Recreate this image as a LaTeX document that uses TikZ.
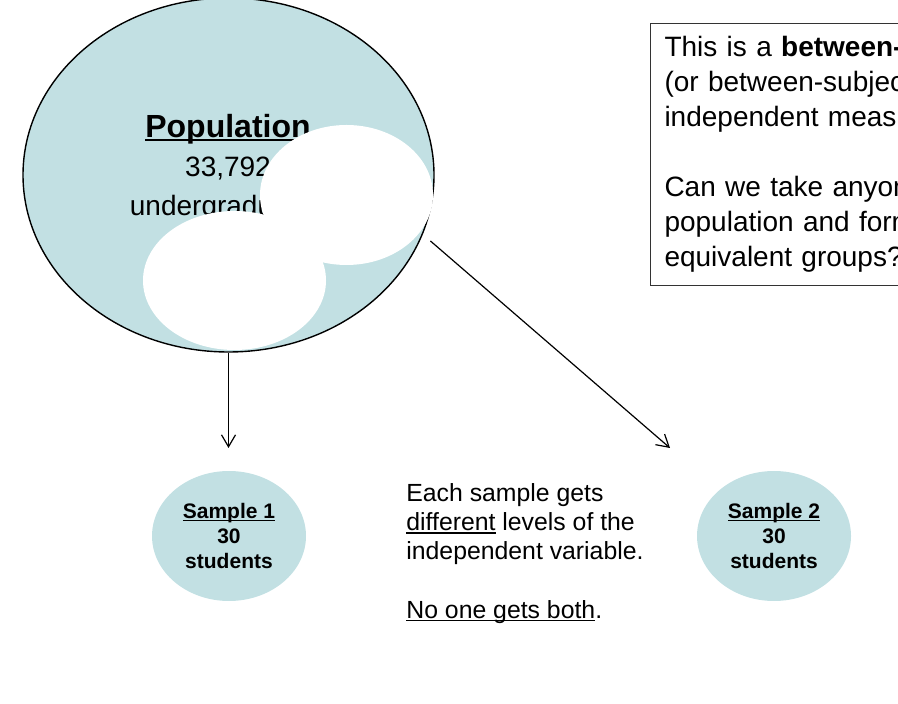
\documentclass[tikz,border=0pt]{standalone}
\usepackage{fontspec}
\setmainfont{Liberation Sans}
\usetikzlibrary{shapes.geometric, arrows.meta, positioning}
\definecolor{popfill}{HTML}{C2E0E3}
\newcommand{\undl}[1]{\setbox0\hbox{#1}\rlap{\rule[-0.12em]{\wd0}{0.065em}}\box0\relax}

\begin{document}
\begin{tikzpicture}[x=0.5pt, y=-0.5pt,
    popn/.style={ellipse, draw=black, line width=0.7pt, fill=popfill, minimum width=205.5pt, minimum height=177pt, inner sep=0pt},
    poplabel/.style={align=center, inner sep=0pt, font=\fontsize{14}{19.5}\selectfont},
    mask/.style={ellipse, fill=white, inner sep=0pt},
    sample/.style={ellipse, fill=popfill, minimum width=77pt, minimum height=65pt, inner sep=0pt, align=center, font=\fontsize{10.5}{12.3}\selectfont\bfseries},
    infobox/.style={draw=black!80, line width=0.5pt, align=left, text width=280pt, inner xsep=7pt, inner ysep=6.5pt, font=\fontsize{14}{17.5}\selectfont},
    note/.style={align=left, inner sep=0pt, font=\fontsize{12.4}{14.6}\selectfont},
    conn/.style={-{Straight Barb[length=6pt,width=7pt]}, line width=0.6pt},
]
\path[use as bounding box, clip] (0,0) rectangle (898,704);

\node[popn] (pop) at (228.5,175) {};
\node[poplabel, anchor=north] (poptext) at (228,114) {{\fontsize{16}{19.5}\selectfont\bfseries\undl{Population}}\\33,792\\undergraduates};

% white patches over the population
\node[mask, minimum width=86.5pt, minimum height=70pt] (mask1) at (346.5,195) {};
\node[mask, minimum width=91.5pt, minimum height=69.5pt] (mask2) at (234.5,280.5) {};

\node[infobox, anchor=north west] (info) at (650,23) {This is a \textbf{between-groups} design\\(or between-subjects design,\\independent measures design)\\[17.5pt]Can we take anyone from the\\population and form two\\equivalent groups?};

\node[sample] (s1) at (229,536) {\undl{Sample 1}\\30\\students};
\node[sample] (s2) at (774,536) {\undl{Sample 2}\\30\\students};

\node[note, anchor=north west] (both) at (406,483) {Each sample gets\\\undl{different} levels of the\\independent variable.\\[14.6pt]\undl{No one gets both}.};

% Arrows
\coordinate (tip1) at (228.5,448);
\coordinate (tip2) at (670,448);
\draw[conn] (pop.south) -- (tip1);
\draw[conn, shorten <=5pt] (pop.-17.6) -- (tip2);

\end{tikzpicture}
\end{document}
